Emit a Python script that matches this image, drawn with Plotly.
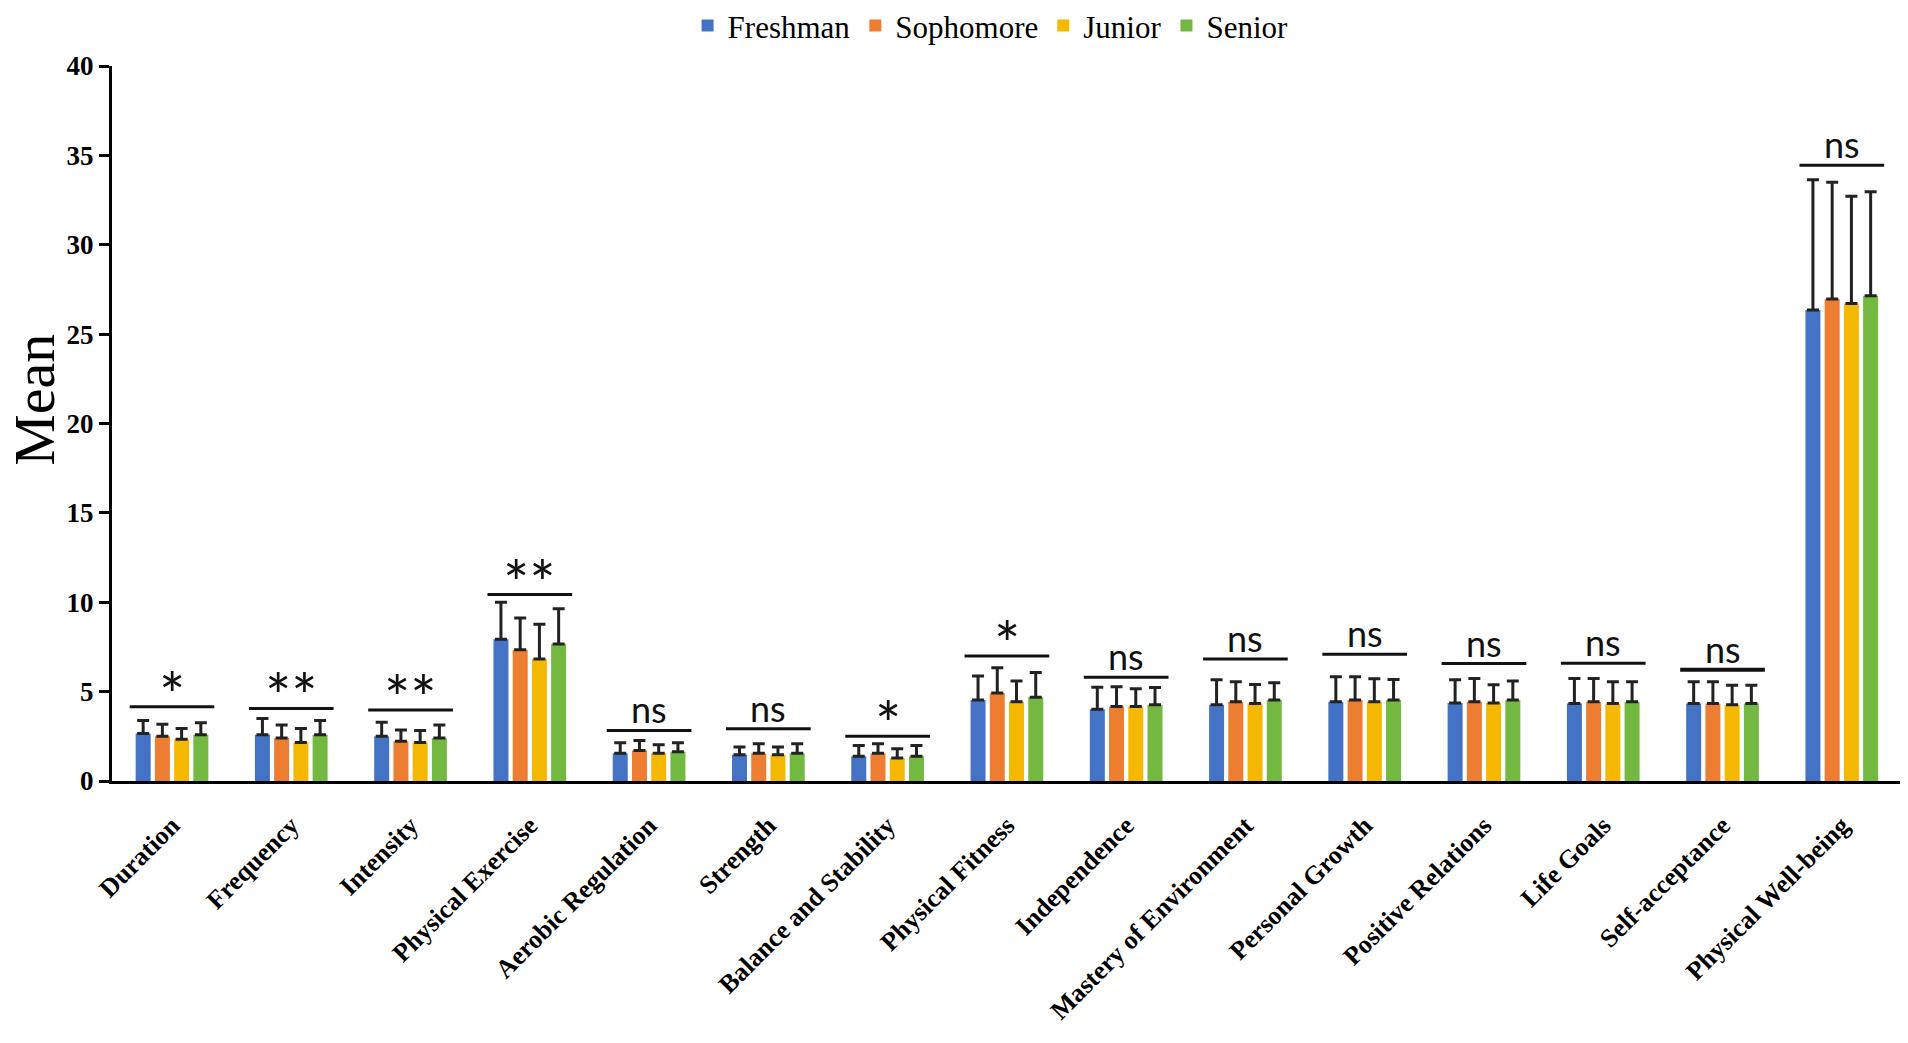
import plotly.graph_objects as go

categories = ["Duration", "Frequency", "Intensity", "Physical Exercise",
              "Aerobic Regulation", "Strength", "Balance and Stability",
              "Physical Fitness", "Independence", "Mastery of Environment",
              "Personal Growth", "Positive Relations", "Life Goals",
              "Self-acceptance", "Physical Well-being"]

groups = ["Freshman", "Sophomore", "Junior", "Senior"]

freshman = [2.66, 2.59, 2.50, 7.93, 1.55, 1.47, 1.38, 4.53, 4.02, 4.26, 4.43, 4.36, 4.34, 4.34, 26.35]
sophomore = [2.50, 2.40, 2.23, 7.34, 1.71, 1.55, 1.55, 4.93, 4.17, 4.43, 4.53, 4.43, 4.43, 4.34, 26.96]
junior = [2.33, 2.16, 2.16, 6.83, 1.55, 1.47, 1.28, 4.43, 4.17, 4.34, 4.43, 4.36, 4.34, 4.26, 26.72]
senior = [2.59, 2.59, 2.40, 7.67, 1.64, 1.55, 1.38, 4.69, 4.26, 4.53, 4.53, 4.53, 4.43, 4.34, 27.15]

freshman_sd = [0.73, 0.91, 0.78, 2.07, 0.59, 0.43, 0.61, 1.35, 1.23, 1.40, 1.40, 1.30, 1.40, 1.21, 7.29]
sophomore_sd = [0.68, 0.73, 0.62, 1.78, 0.56, 0.54, 0.54, 1.40, 1.10, 1.12, 1.30, 1.31, 1.31, 1.21, 6.54]
junior_sd = [0.61, 0.78, 0.67, 1.94, 0.48, 0.43, 0.53, 1.16, 0.99, 1.06, 1.29, 1.02, 1.21, 1.10, 6.00]
senior_sd = [0.67, 0.80, 0.73, 1.96, 0.50, 0.54, 0.61, 1.38, 0.97, 0.96, 1.15, 1.06, 1.12, 1.02, 5.81]

sig_labels = ["*", "**", "**", "**", "ns", "ns", "*", "*", "ns", "ns", "ns", "ns", "ns", "ns", "ns"]
sig_heights = [4.15, 4.06, 3.97, 10.43, 2.83, 2.92, 2.51, 7.00, 5.81, 6.82, 7.09, 6.57, 6.59, 6.22, 34.45]

colors = ["#4472C4", "#ED7D31", "#F5B800", "#73B840"]
serif = "Liberation Serif, Times New Roman, serif"

means = [freshman, sophomore, junior, senior]
sds = [freshman_sd, sophomore_sd, junior_sd, senior_sd]

fig = go.Figure()
for name, m, sd, c in zip(groups, means, sds, colors):
    fig.add_trace(go.Bar(
        x=list(range(len(categories))), y=m, name=name, marker_color=c,
        marker_line_width=0,
        error_y=dict(type="data", array=sd, arrayminus=[0] * len(sd),
                     symmetric=False, color="#222222", thickness=3, width=6),
    ))

# significance bars and labels
for i, (lab, h) in enumerate(zip(sig_labels, sig_heights)):
    fig.add_shape(type="line", x0=i - 0.355, x1=i + 0.355, y0=h, y1=h,
                  line=dict(color="#111111", width=4 if i == 13 else 3))
    star = lab.startswith("*")
    fig.add_annotation(x=i, y=h, text=lab, showarrow=False,
                       yanchor="bottom", yshift=-26 if star else -3,
                       font=dict(family="Lato", size=62 if star else 36, color="#111111"))

# y axis title
fig.add_annotation(xref="paper", yref="paper", x=-0.043, y=0.533, text="Mean",
                   textangle=-90, showarrow=False, xanchor="center", yanchor="middle",
                   font=dict(family=serif, size=58, color="black"))

fig.update_layout(
    width=1900, height=1035,
    paper_bgcolor="white", plot_bgcolor="white",
    margin=dict(l=104, r=3, t=58, b=262, autoexpand=False),
    barmode="group", bargap=0.355, bargroupgap=0.22,
    font=dict(family=serif, color="black"),
    legend=dict(orientation="h", x=0.49, xanchor="center", y=1.094, yanchor="top",
                font=dict(family=serif, size=31, color="black"),
                itemwidth=30, tracegroupgap=0),
    showlegend=True,
)

fig.update_xaxes(
    range=[-0.503, 14.53], tickmode="array", tickvals=list(range(len(categories))),
    ticktext=["<b>%s</b>" % c for c in categories], tickangle=-45,
    tickfont=dict(family=serif, size=26, color="black"), ticklabelstandoff=16,
    showline=True, linecolor="black", linewidth=3, ticks="", showgrid=False,
    zeroline=False,
)
fig.update_yaxes(
    range=[0, 40], tickmode="array", tickvals=list(range(0, 41, 5)),
    ticktext=["<b>%d</b>" % v for v in range(0, 41, 5)],
    tickfont=dict(family=serif, size=27, color="black"),
    showline=True, linecolor="black", linewidth=3, ticks="outside", ticklen=10,
    tickwidth=3, tickcolor="black", showgrid=False, zeroline=False,
)

fig.write_html("out.html")
